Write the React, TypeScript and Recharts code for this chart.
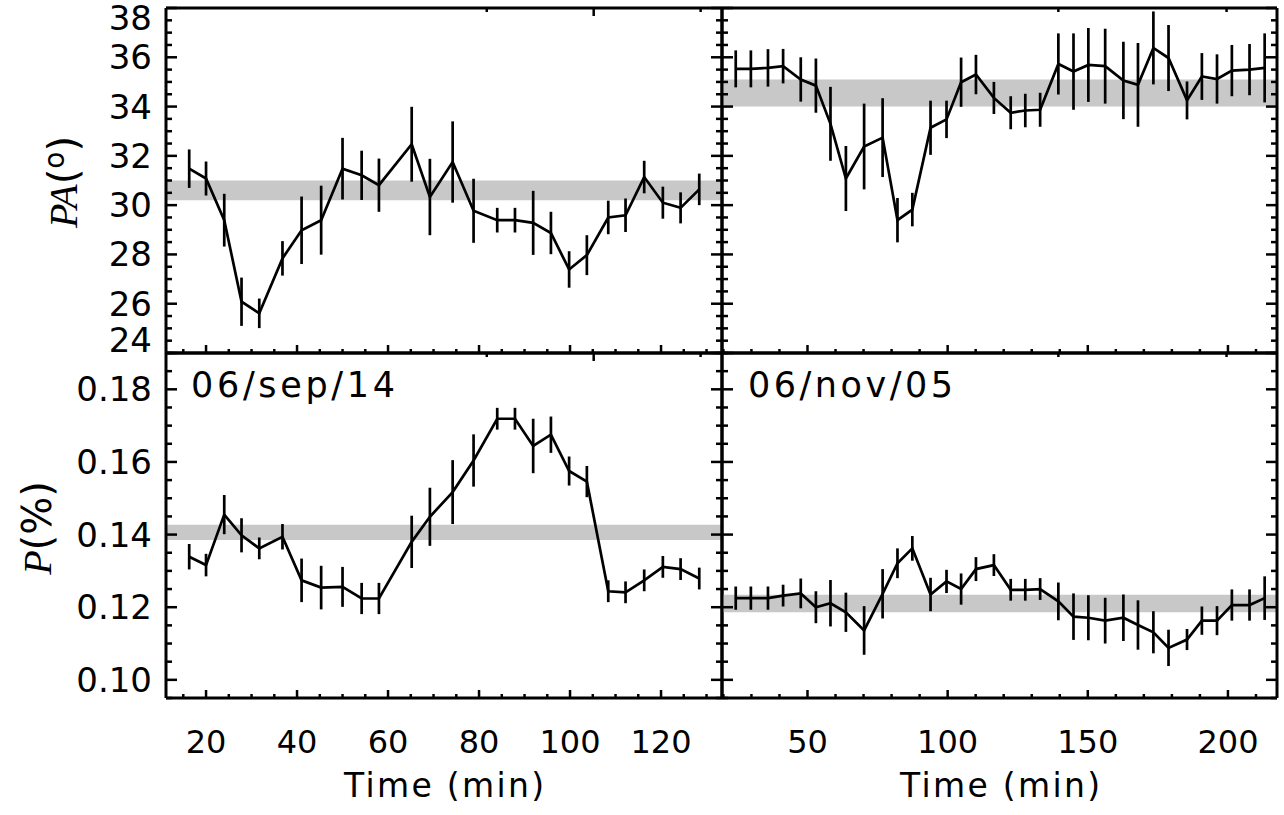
import React from 'react';
import { ComposedChart, Line, XAxis, YAxis, ErrorBar, ReferenceArea } from 'recharts';

// 06/sep/14 run (left column)
const leftTime = [16.3, 20, 24, 27.8, 31.7, 36.8, 41, 45.3, 50, 54.2, 58, 65.2, 69.2, 74.2, 78.8, 84, 87.9, 91.9, 95.8, 99.8, 103.7, 108.4, 112.2, 116.3, 120.4, 124.3, 128.4];
const leftPA = [31.48, 31.08, 29.39, 26.08, 25.61, 27.84, 28.98, 29.39, 31.48, 31.21, 30.81, 32.47, 30.33, 31.75, 29.77, 29.39, 29.39, 29.28, 28.87, 27.39, 27.97, 29.5, 29.59, 31.14, 30.1, 29.89, 30.64];
const leftPAErr = [0.78, 0.69, 1.07, 0.98, 0.6, 0.7, 1.37, 1.4, 1.25, 1.0, 1.08, 1.52, 1.55, 1.65, 1.3, 0.5, 0.5, 1.3, 0.86, 0.74, 0.81, 0.68, 0.68, 0.66, 0.65, 0.63, 0.64];
const leftP = [0.1339, 0.1316, 0.1455, 0.1398, 0.1362, 0.1394, 0.1274, 0.1254, 0.1256, 0.1224, 0.1224, 0.138, 0.1449, 0.1517, 0.1604, 0.1719, 0.1719, 0.1644, 0.1675, 0.1575, 0.1546, 0.1244, 0.1241, 0.1274, 0.1311, 0.1305, 0.1279];
const leftPErr = [0.0035, 0.0031, 0.0054, 0.0047, 0.003, 0.0035, 0.006, 0.006, 0.0055, 0.0043, 0.0043, 0.0072, 0.008, 0.0088, 0.0072, 0.003, 0.003, 0.0075, 0.005, 0.004, 0.0043, 0.003, 0.003, 0.003, 0.003, 0.003, 0.003];

// 06/nov/05 run (right column)
const rightTime = [24.4, 29.8, 35.9, 41.3, 47.6, 53, 58.2, 63.7, 70.2, 76.8, 82.1, 87.4, 93.9, 99.6, 104.8, 110.1, 116.5, 122.5, 127.7, 133, 139.5, 144.9, 150.2, 156.2, 162.7, 167.9, 173.4, 178.8, 185.4, 190.7, 196.1, 201.4, 207.7, 213.1];
const rightPA = [35.53, 35.53, 35.57, 35.64, 35.1, 34.85, 33.3, 31.08, 32.38, 32.74, 29.39, 29.82, 33.14, 33.48, 34.99, 35.3, 34.35, 33.75, 33.84, 33.87, 35.73, 35.42, 35.69, 35.64, 35.06, 34.88, 36.38, 35.97, 34.25, 35.22, 35.12, 35.46, 35.5, 35.57];
const rightPAErr = [0.75, 0.75, 0.76, 0.7, 0.9, 1.1, 1.5, 1.32, 1.74, 1.6, 0.9, 0.68, 1.1, 0.76, 1.0, 0.8, 0.65, 0.67, 0.68, 0.69, 1.24, 1.55, 1.5, 1.52, 1.57, 1.7, 1.48, 1.34, 0.77, 0.95, 1.0, 1.04, 1.04, 1.4];
const rightP = [0.1225, 0.1225, 0.1225, 0.1232, 0.1238, 0.12, 0.1211, 0.1186, 0.1136, 0.1237, 0.1321, 0.1362, 0.1235, 0.1271, 0.125, 0.1305, 0.1316, 0.1248, 0.1248, 0.125, 0.1216, 0.1174, 0.1171, 0.1163, 0.1171, 0.1151, 0.1131, 0.1088, 0.1111, 0.1163, 0.1163, 0.1206, 0.1206, 0.1225];
const rightPErr = [0.0032, 0.0032, 0.0032, 0.003, 0.0041, 0.0044, 0.0064, 0.0054, 0.0067, 0.0068, 0.0041, 0.0034, 0.0046, 0.0032, 0.0043, 0.0033, 0.003, 0.003, 0.003, 0.003, 0.0052, 0.0064, 0.0062, 0.0063, 0.0064, 0.0068, 0.0058, 0.005, 0.0029, 0.0039, 0.004, 0.0043, 0.0043, 0.006];

// mean bands (grey)
const leftPABand: [number, number] = [30.2, 31.0];
const rightPABand: [number, number] = [34.0, 35.1];
const leftPBand: [number, number] = [0.1385, 0.1427];
const rightPBand: [number, number] = [0.1186, 0.1234];

// axes
const leftTimeMajor = [20, 40, 60, 80, 100, 120];
const rightTimeMajor = [50, 100, 150, 200];
const paMajor = [24, 26, 28, 30, 32, 34, 36, 38];
const pMajor = [0.1, 0.12, 0.14, 0.16, 0.18];

const range = (a: number, b: number, s: number) => {
  const out: number[] = [];
  for (let v = a; v <= b + s / 2; v += s) out.push(Math.round(v * 10000) / 10000);
  return out;
};
const leftTimeTicks = range(15, 130, 5);
const rightTimeTicks = range(20, 210, 10);
const paTicks = range(24, 38, 0.5);
const pTicks = range(0.095, 0.19, 0.005);

const PLOT_H = 345;
const PAD = 12;
const FONT = "'DejaVu Sans', Verdana, sans-serif";
const LW = 2.7;

type Side = 'left' | 'right' | 'top' | 'bottom';

const makeTick = (side: Side, majors: number[], labels: boolean, fmt: (v: number) => string, edges?: [number, number]) =>
  (p: any) => {
    const x = Number(p.x);
    const y = Number(p.y);
    const v = p.payload.value;
    const isMajor = majors.some(m => Math.abs(m - v) < 1e-6);
    const vertical = side === 'left' || side === 'right';
    const len = vertical ? (isMajor ? 11 : 6) : (isMajor ? 8 : 4);
    let x2 = x, y2 = y;
    if (side === 'left') x2 = x + len;
    if (side === 'right') x2 = x - len;
    if (side === 'top') y2 = y + len;
    if (side === 'bottom') y2 = y - len;
    let label = null;
    if (labels && isMajor) {
      if (side === 'left') {
        let dy = 0;
        if (edges && Math.abs(v - edges[1]) < 1e-6) dy = 10;
        if (edges && Math.abs(v - edges[0]) < 1e-6) dy = -13;
        label = (
          <text x={x - 14} y={y + dy} textAnchor="end" dominantBaseline="central" fontSize={34} fontFamily={FONT} fill="#000">
            {fmt(v)}
          </text>
        );
      } else if (side === 'bottom') {
        label = (
          <text x={x} y={y + 44} textAnchor="middle" dominantBaseline="central" fontSize={32} fontFamily={FONT} fill="#000">
            {fmt(v)}
          </text>
        );
      }
    }
    return (
      <g>
        <line x1={x} y1={y} x2={x2} y2={y2} stroke="#000" strokeWidth={2.5} />
        {label}
      </g>
    );
  };

type PanelProps = {
  time: number[];
  vals: number[];
  errs: number[];
  band: [number, number];
  xDomain: [number, number];
  yDomain: [number, number];
  xTicks: number[];
  xMajor: number[];
  yTicks: number[];
  yMajor: number[];
  plotLeft: number;
  plotTop: number;
  plotW: number;
  showY: boolean;
  showX: boolean;
  yFmt: (v: number) => string;
};

const Panel = (props: PanelProps) => {
  const { time, vals, errs, band, xDomain, yDomain, xTicks, xMajor, yTicks, yMajor, plotLeft, plotTop, plotW, showY, showX, yFmt } = props;
  const data = time.map((t, i) => ({ t, v: vals[i], e: errs[i] }));
  // axes of zero size are not drawn, so the unlabelled ones get 1px
  const leftW = showY ? 110 : 1;
  const bottomH = showX ? 60 : 1;
  const topH = 1;
  const rightW = 1;
  const width = leftW + plotW + rightW + PAD * 2;
  const height = topH + PLOT_H + bottomH + PAD * 2;
  const axisLine = { stroke: '#000', strokeWidth: 3 };
  const xFmt = (v: number) => String(v);
  return (
    <div style={{ position: 'absolute', left: plotLeft - leftW - PAD, top: plotTop - topH - PAD }}>
      <ComposedChart width={width} height={height} data={data} margin={{ top: PAD, right: PAD, bottom: PAD, left: PAD }}>
        <XAxis
          dataKey="t"
          type="number"
          domain={xDomain}
          allowDataOverflow
          ticks={xTicks}
          interval={0}
          height={bottomH}
          tickSize={0}
          tickMargin={0}
          axisLine={axisLine}
          tickLine={false}
          tick={makeTick('bottom', xMajor, showX, xFmt)}
        />
        <XAxis
          xAxisId="top"
          orientation="top"
          type="number"
          domain={xDomain}
          allowDataOverflow
          ticks={xTicks}
          interval={0}
          height={topH}
          tickSize={0}
          tickMargin={0}
          axisLine={axisLine}
          tickLine={false}
          tick={makeTick('top', xMajor, false, xFmt)}
        />
        <YAxis
          type="number"
          domain={yDomain}
          allowDataOverflow
          ticks={yTicks}
          interval={0}
          width={leftW}
          tickSize={0}
          tickMargin={0}
          axisLine={axisLine}
          tickLine={false}
          tick={makeTick('left', yMajor, showY, yFmt, yDomain)}
        />
        <YAxis
          yAxisId="right"
          orientation="right"
          type="number"
          domain={yDomain}
          allowDataOverflow
          ticks={yTicks}
          interval={0}
          width={rightW}
          tickSize={0}
          tickMargin={0}
          axisLine={axisLine}
          tickLine={false}
          tick={makeTick('right', yMajor, false, yFmt)}
        />
        <ReferenceArea y1={band[0]} y2={band[1]} fill="#c8c8c8" fillOpacity={1} stroke="none" />
        <Line dataKey="v" stroke="#000" strokeWidth={LW} dot={false} isAnimationActive={false}>
          <ErrorBar dataKey="e" direction="y" width={0} stroke="#000" strokeWidth={LW} isAnimationActive={false} />
        </Line>
      </ComposedChart>
    </div>
  );
};

const paFmt = (v: number) => String(v);
const pFmt = (v: number) => v.toFixed(2);

export default function App() {
  const leftX: [number, number] = [11.2, 133.4];
  const rightX: [number, number] = [19.5, 217.5];
  const paY: [number, number] = [24, 38];
  const pY: [number, number] = [0.095, 0.19];
  return (
    <div style={{ position: 'absolute', left: 0, top: 0, width: 1284, height: 815, background: '#fff' }}>
      <Panel time={leftTime} vals={leftPA} errs={leftPAErr} band={leftPABand} xDomain={leftX} yDomain={paY}
        xTicks={leftTimeTicks} xMajor={leftTimeMajor} yTicks={paTicks} yMajor={paMajor}
        plotLeft={166} plotTop={8} plotW={556} showY showX={false} yFmt={paFmt} />
      <Panel time={rightTime} vals={rightPA} errs={rightPAErr} band={rightPABand} xDomain={rightX} yDomain={paY}
        xTicks={rightTimeTicks} xMajor={rightTimeMajor} yTicks={paTicks} yMajor={paMajor}
        plotLeft={722} plotTop={8} plotW={555} showY={false} showX={false} yFmt={paFmt} />
      <Panel time={leftTime} vals={leftP} errs={leftPErr} band={leftPBand} xDomain={leftX} yDomain={pY}
        xTicks={leftTimeTicks} xMajor={leftTimeMajor} yTicks={pTicks} yMajor={pMajor}
        plotLeft={166} plotTop={353} plotW={556} showY showX yFmt={pFmt} />
      <Panel time={rightTime} vals={rightP} errs={rightPErr} band={rightPBand} xDomain={rightX} yDomain={pY}
        xTicks={rightTimeTicks} xMajor={rightTimeMajor} yTicks={pTicks} yMajor={pMajor}
        plotLeft={722} plotTop={353} plotW={555} showY={false} showX yFmt={pFmt} />
      <svg width={1284} height={815} style={{ position: 'absolute', left: 0, top: 0, pointerEvents: 'none' }}>
        <text x={191} y={397} fontSize={35} fontFamily={FONT} textLength={204} lengthAdjust="spacing">06/sep/14</text>
        <text x={748} y={397} fontSize={35} fontFamily={FONT} textLength={205} lengthAdjust="spacing">06/nov/05</text>
        <text x={444} y={785} textAnchor="middle" dominantBaseline="central" fontSize={33} fontFamily={FONT} textLength={200} lengthAdjust="spacing">Time (min)</text>
        <text x={1000} y={785} textAnchor="middle" dominantBaseline="central" fontSize={33} fontFamily={FONT} textLength={200} lengthAdjust="spacing">Time (min)</text>
        <text transform="translate(63,182) rotate(-90)" textAnchor="middle" dominantBaseline="central" fontSize={40} fontFamily={FONT}>
          <tspan fontFamily="'Liberation Serif', serif" fontStyle="italic">PA</tspan>(<tspan fontSize={28} dy={-9}>o</tspan><tspan dy={9}>)</tspan>
        </text>
        <text transform="translate(37,528) rotate(-90)" textAnchor="middle" dominantBaseline="central" fontSize={40} fontFamily={FONT}>
          <tspan fontFamily="'Liberation Serif', serif" fontStyle="italic">P</tspan>(%)
        </text>
      </svg>
    </div>
  );
}
